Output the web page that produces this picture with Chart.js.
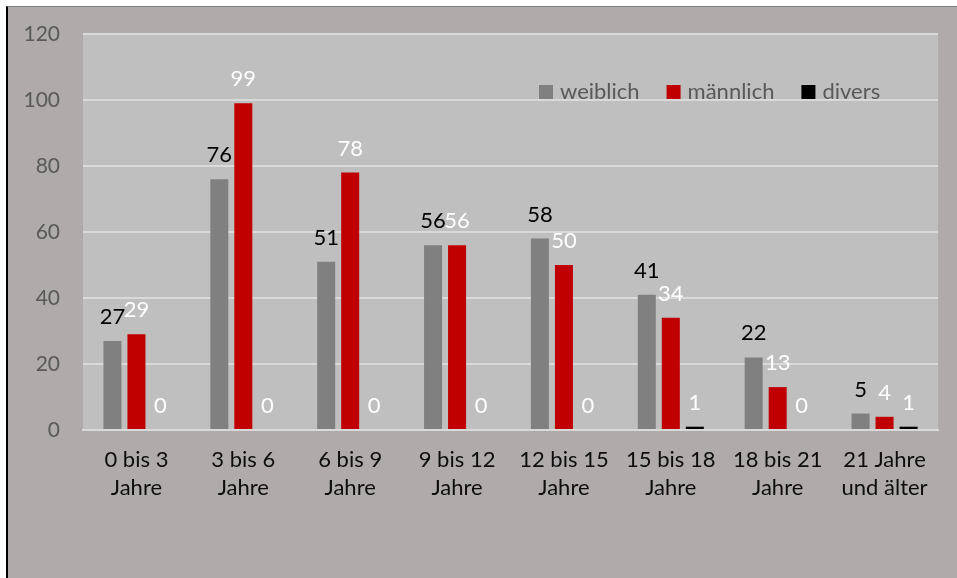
<!DOCTYPE html>
<html lang="de">
<head>
<meta charset="utf-8">
<title>Altersgruppen nach Geschlecht</title>
<script src="https://cdn.jsdelivr.net/npm/chart.js@4"></script>
<style>
    html, body { margin: 0; padding: 0; background: #ffffff; }
    #frame {
        position: absolute;
        left: 6px;
        top: 6px;
        width: 949px;
        height: 571px;
        background: #afabab;
        border-left: 2px solid #000000;
        border-top: 1px solid #7f7f7f;
    }
    #chart { display: block; }
</style>
</head>
<body>
<div id="frame"><canvas id="chart" width="949" height="571"></canvas></div>
<script>
// chart data
const categories = [
    ['0 bis 3', 'Jahre'],
    ['3 bis 6', 'Jahre'],
    ['6 bis 9', 'Jahre'],
    ['9 bis 12', 'Jahre'],
    ['12 bis 15', 'Jahre'],
    ['15 bis 18', 'Jahre'],
    ['18 bis 21', 'Jahre'],
    ['21 Jahre', 'und älter']
];
const weiblich = [27, 76, 51, 56, 58, 41, 22, 5];
const maennlich = [29, 99, 78, 56, 50, 34, 13, 4];
const divers = [0, 0, 0, 0, 0, 1, 0, 1];
const seriesNames = ['weiblich', 'männlich', 'divers'];
const yTicks = [0, 20, 40, 60, 80, 100, 120];

const fontFamily = 'Lato, "Open Sans", sans-serif';

// fill the plot area with the lighter grey
const plotBackground = {
    id: 'plotBackground',
    beforeDraw: (chart) => {
        const { ctx, chartArea } = chart;
        ctx.save();
        ctx.fillStyle = '#bfbfbf';
        ctx.fillRect(chartArea.left, chartArea.top, chartArea.right - chartArea.left, chartArea.bottom - chartArea.top);
        ctx.restore();
    }
};

// value labels above each bar
const valueLabels = {
    id: 'valueLabels',
    afterDatasetsDraw: (chart) => {
        const { ctx } = chart;
        ctx.save();
        ctx.font = '22px ' + fontFamily;
        ctx.textAlign = 'center';
        ctx.textBaseline = 'middle';
        chart.data.datasets.forEach((ds, i) => {
            const meta = chart.getDatasetMeta(i);
            ctx.fillStyle = ds.labelColor;
            meta.data.forEach((bar, j) => {
                ctx.fillText(String(ds.data[j]), bar.x, bar.y - 24);
            });
        });
        ctx.restore();
    }
};

// legend inside the plot, top right
const insideLegend = {
    id: 'insideLegend',
    afterDraw: (chart) => {
        const { ctx, chartArea } = chart;
        ctx.save();
        ctx.font = '22px ' + fontFamily;
        ctx.textBaseline = 'alphabetic';
        let x = chartArea.left + 456;
        const baseY = chartArea.top + 65;
        chart.data.datasets.forEach((ds) => {
            ctx.fillStyle = ds.backgroundColor;
            ctx.fillRect(x, baseY - 14, 14, 14);
            x += 21;
            ctx.fillStyle = '#595959';
            ctx.fillText(ds.label, x, baseY);
            x += ctx.measureText(ds.label).width + 27;
        });
        ctx.restore();
    }
};

const ctx = document.getElementById('chart').getContext('2d');
const chart = new Chart(ctx, {
    type: 'bar',
    data: {
        labels: categories,
        datasets: [
            { label: seriesNames[0], data: weiblich, backgroundColor: '#808080', labelColor: '#000000' },
            { label: seriesNames[1], data: maennlich, backgroundColor: '#c00000', labelColor: '#ffffff' },
            { label: seriesNames[2], data: divers, backgroundColor: '#000000', labelColor: '#ffffff' }
        ]
    },
    options: {
        responsive: false,
        animation: false,
        barPercentage: 0.75,
        categoryPercentage: 0.674,
        layout: { padding: { top: 27, right: 19, bottom: 0, left: 0 } },
        plugins: {
            legend: { display: false },
            tooltip: { enabled: false }
        },
        scales: {
            x: {
                grid: { display: false, drawTicks: false },
                border: { display: true, color: '#d9d9d9', width: 2 },
                ticks: {
                    color: '#0d0d0d',
                    padding: 16,
                    maxRotation: 0,
                    autoSkip: false,
                    font: { family: fontFamily, size: 22, lineHeight: 1.27 }
                },
                afterFit: (scale) => { scale.height = 148; }
            },
            y: {
                min: 0,
                max: 120,
                afterBuildTicks: (scale) => { scale.ticks = yTicks.map(v => ({ value: v })); },
                grid: { color: '#d9d9d9', lineWidth: 2, drawTicks: false },
                border: { display: false },
                ticks: {
                    color: '#595959',
                    padding: 23,
                    font: { family: fontFamily, size: 21 }
                },
                afterFit: (scale) => {
                    scale.width = 75;
                    scale.paddingTop = 0;
                    scale.paddingBottom = 0;
                }
            }
        }
    },
    plugins: [plotBackground, valueLabels, insideLegend]
});
</script>
</body>
</html>
